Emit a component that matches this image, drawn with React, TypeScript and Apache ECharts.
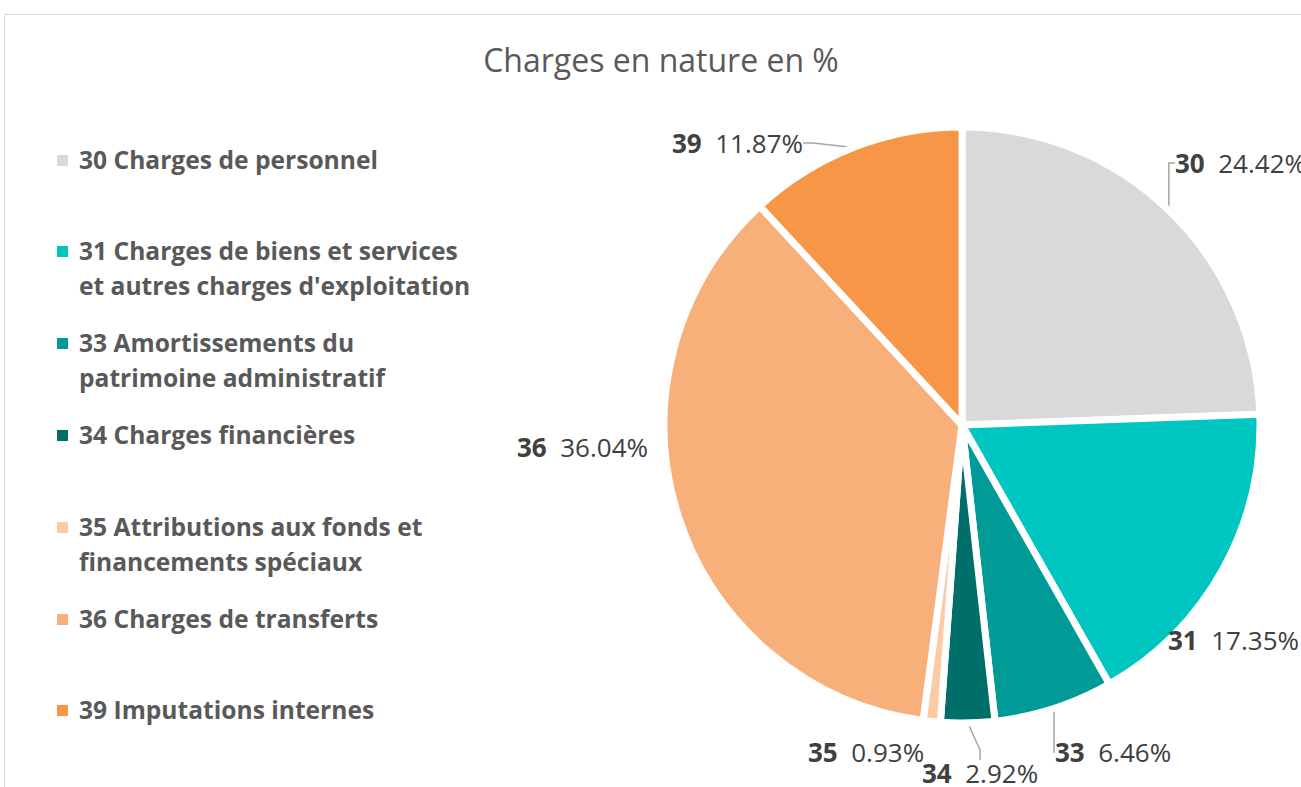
import React, { useEffect, useRef } from "react";
import * as echarts from "echarts";

// ---- data ----
const codes = ["30", "31", "33", "34", "35", "36", "39"];
const names = [
  "30 Charges de personnel",
  "31 Charges de biens et services et autres charges d'exploitation",
  "33 Amortissements du patrimoine administratif",
  "34 Charges financières",
  "35 Attributions aux fonds et financements spéciaux",
  "36 Charges de transferts",
  "39 Imputations internes",
];
const legendLines = [
  "30 Charges de personnel",
  "31 Charges de biens et services\net autres charges d'exploitation",
  "33 Amortissements du\npatrimoine administratif",
  "34 Charges financières",
  "35 Attributions aux fonds et\nfinancements spéciaux",
  "36 Charges de transferts",
  "39 Imputations internes",
];
const values = [24.42, 17.35, 6.46, 2.92, 0.93, 36.04, 11.87];
const titleText = "Charges en nature en %";

// ---- styles / layout ----
const colors = ["#D9D9D9", "#00C6C1", "#009B96", "#006E69", "#FBCBA6", "#F8B07B", "#F79646"];
const labelPos: [number, number][] = [
  [1175, 163],
  [1168, 640],
  [1055, 752],
  [922, 773],
  [808, 752],
  [517, 447],
  [672, 143],
];
const showLine = [true, false, true, true, false, false, true];
const markerCenters = [160, 251, 343, 435, 527, 619, 710];
const FONT = "'Open Sans', 'Noto Sans', sans-serif";

export default function App() {
  const ref = useRef<HTMLDivElement>(null);
  useEffect(() => {
    if (!ref.current) return;
    const chart = echarts.init(ref.current, null, { renderer: "svg" });
    const lineH = 35;
    const option: any = {
      animation: false,
      backgroundColor: "#ffffff",
      title: {
        text: titleText,
        left: 661,
        textAlign: "center",
        top: 43,
        padding: 0,
        textStyle: { fontFamily: FONT, fontSize: 32, fontWeight: "normal", color: "#595959" },
      },
      legend: names.map((n, i) => ({
        data: [n],
        top: markerCenters[i] - lineH / 2 - 0.5,
        left: 63,
        orient: "vertical",
        padding: 0,
        itemWidth: 11,
        itemHeight: 11,
        selectedMode: false,
        itemStyle: { opacity: 0, borderWidth: 0 },
        formatter: () => legendLines[i],
        textStyle: {
          fontFamily: FONT,
          fontSize: 24.6,
          fontWeight: "bold",
          color: "#595959",
          lineHeight: lineH,
        },
      })),
      graphic: [
        {
          type: "rect",
          shape: { x: 4.5, y: 14.5, width: 1400, height: 900 },
          style: { fill: "none", stroke: "#D9D9D9", lineWidth: 1 },
          z: -10,
        },
        ...markerCenters.map((c, i) => ({
          type: "rect",
          shape: { x: 57, y: c - 5, width: 11, height: 11 },
          style: { fill: colors[i] },
        })),
      ],
      series: [
        {
          type: "pie",
          left: 0,
          top: 0,
          width: 1800,
          height: 1000,
          center: [962, 425],
          radius: [0, 298],
          startAngle: 90,
          clockwise: true,
          itemStyle: { borderColor: "#ffffff", borderWidth: 7 },
          label: {
            show: true,
            overflow: "none",
            formatter: (p: any) => `{b|${codes[p.dataIndex]}}  {p|${p.value.toFixed(2)}%}`,
            rich: {
              b: { fontFamily: FONT, fontSize: 26, fontWeight: "bold", color: "#404040" },
              p: { fontFamily: FONT, fontSize: 26, color: "#404040" },
            },
            fontFamily: FONT,
            fontSize: 26,
            color: "#404040",
          },
          labelLine: { show: true, length: 10, length2: 10, lineStyle: { color: "#A6A6A6", width: 1.5 } },
          labelLayout: (params: any) => {
            const i = params.dataIndex;
            return { x: labelPos[i][0], y: labelPos[i][1], align: "left", verticalAlign: "middle" };
          },
          emphasis: { disabled: true },
          data: names.map((n, i) => ({
            name: n,
            value: values[i],
            itemStyle: { color: colors[i] },
            labelLine: { show: showLine[i] },
          })),
        },
      ],
    };
    chart.setOption(option);
    return () => chart.dispose();
  }, []);
  return (
    <div
      ref={ref}
      style={{ position: "fixed", left: 0, top: 0, width: 1301, height: 787, background: "#fff" }}
    />
  );
}
